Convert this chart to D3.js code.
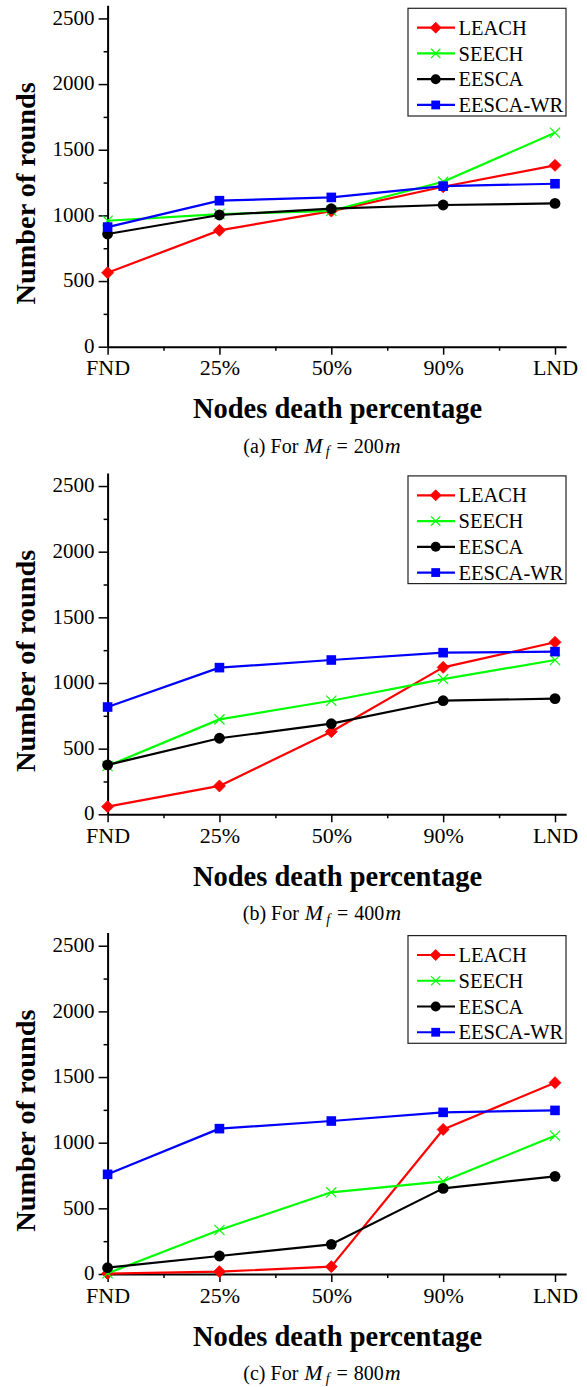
<!DOCTYPE html>
<html><head><meta charset="utf-8">
<script src="https://cdn.jsdelivr.net/npm/d3@7"></script>
<style>
body{margin:0;background:#fff}
svg{display:block}
text{font-family:"Liberation Serif","Times New Roman",serif;fill:#000}
</style>
</head><body><svg id="chart" width="587" height="1387"></svg>
<script>
// ---------- data ----------
const categories = ["FND","25%","50%","90%","LND"];
const seriesNames = ["LEACH","SEECH","EESCA","EESCA-WR"];
const seriesColors = ["#ff0000","#00ff00","#000000","#0000ff"];
const seriesMarkers = ["diamond","cross","circle","square"];
const yTickValues = [0,500,1000,1500,2000,2500];
const yMinorTicks = [250,750,1250,1750,2250];
const xMinorTicks = [0.5,1.5,2.5,3.5];

// (a) Mf = 200m
const leach200   = [563, 886, 1033, 1218, 1381];
const seech200   = [959, 1010, 1035, 1256, 1629];
const eesca200   = [858, 1003, 1051, 1079, 1091];
const eescaWR200 = [911, 1112, 1137, 1223, 1241];
// (b) Mf = 400m
const leach400   = [58, 216, 629, 1119, 1310];
const seech400   = [368, 723, 865, 1030, 1175];
const eesca400   = [376, 579, 690, 865, 881];
const eescaWR400 = [817, 1117, 1175, 1231, 1239];
// (c) Mf = 800m
const leach800   = [3, 18, 56, 1101, 1457];
const seech800   = [5, 335, 622, 706, 1053];
const eesca800   = [48, 137, 226, 652, 744];
const eescaWR800 = [759, 1107, 1165, 1231, 1246];

const panelLabels = ["(a)","(b)","(c)"];
const panelMf = ["200","400","800"];
const panelSeries = [
  [leach200, seech200, eesca200, eescaWR200],
  [leach400, seech400, eesca400, eescaWR400],
  [leach800, seech800, eesca800, eescaWR800]
];

// ---------- layout ----------
const zeroYs = [346.7, 814.3, 1274];
const xLeft = 107.6, xStep = 111.85;
const yPxPer2600 = 341.4;

const svg = d3.select("#chart");

function drawMarker(g, type, x, y, color, s) {
  if (type === "diamond") {
    g.append("path").attr("d", `M${x},${y-s}L${x+s},${y}L${x},${y+s}L${x-s},${y}Z`)
      .attr("fill", color).attr("stroke", color).attr("stroke-width", 0.8);
  } else if (type === "cross") {
    const c = s*0.85;
    g.append("path").attr("d", `M${x-c},${y-c}L${x+c},${y+c}M${x-c},${y+c}L${x+c},${y-c}`)
      .attr("fill", "none").attr("stroke", color).attr("stroke-width", 1.2);
  } else if (type === "circle") {
    g.append("circle").attr("cx", x).attr("cy", y).attr("r", s*0.9).attr("fill", color);
  } else if (type === "square") {
    const c = s*0.8;
    g.append("rect").attr("x", x-c).attr("y", y-c).attr("width", 2*c).attr("height", 2*c).attr("fill", color);
  }
}

panelSeries.forEach((series, p) => {
  const zero = zeroYs[p];
  const x = d3.scaleLinear().domain([0, 4.1]).range([xLeft, xLeft + 4.1*xStep]);
  const y = d3.scaleLinear().domain([0, 2600]).range([zero, zero - yPxPer2600]);
  const g = svg.append("g");

  // minor ticks
  const yMinor = d3.axisLeft(y).tickValues(yMinorTicks).tickSize(4).tickFormat("").tickSizeOuter(0);
  g.append("g").attr("transform", `translate(${xLeft},0)`).call(yMinor)
    .call(a => a.select(".domain").remove())
    .selectAll("line").attr("stroke", "#000").attr("stroke-width", 1.5);
  const xMinor = d3.axisBottom(x).tickValues(xMinorTicks).tickSize(4).tickFormat("").tickSizeOuter(0);
  g.append("g").attr("transform", `translate(0,${zero})`).call(xMinor)
    .call(a => a.select(".domain").remove())
    .selectAll("line").attr("stroke", "#000").attr("stroke-width", 1.5);

  // y axis
  const yAxis = d3.axisLeft(y).tickValues(yTickValues).tickFormat(d3.format("d"))
    .tickSize(9).tickSizeOuter(0).tickPadding(4);
  const ya = g.append("g").attr("transform", `translate(${xLeft},0)`).call(yAxis);
  ya.select(".domain").attr("stroke", "#000").attr("stroke-width", 2);
  ya.selectAll(".tick line").attr("stroke", "#000").attr("stroke-width", 1.5);
  ya.selectAll(".tick text").attr("font-size", 21).attr("dy", "0.27em").attr("fill", "#000");

  // x axis
  const xAxis = d3.axisBottom(x).tickValues([0,1,2,3,4]).tickFormat(i => categories[i])
    .tickSize(8).tickSizeOuter(0).tickPadding(6);
  const xa = g.append("g").attr("transform", `translate(0,${zero})`).call(xAxis);
  xa.select(".domain").attr("stroke", "#000").attr("stroke-width", 2);
  xa.selectAll(".tick line").attr("stroke", "#000").attr("stroke-width", 1.5);
  xa.selectAll(".tick text").attr("font-size", 22).attr("dy", "0.66em").attr("fill", "#000");

  // series lines and markers
  series.forEach((vals, s) => {
    const line = d3.line().x((d, i) => x(i)).y(d => y(d));
    g.append("path").datum(vals).attr("d", line)
      .attr("fill", "none").attr("stroke", seriesColors[s]).attr("stroke-width", 2.2)
      .attr("stroke-linejoin", "round");
    vals.forEach((v, i) => drawMarker(g, seriesMarkers[s], x(i), y(v), seriesColors[s], 6));
  });

  // legend
  const lg = g.append("g");
  lg.append("rect").attr("x", 408).attr("y", zero - 338.4).attr("width", 158).attr("height", 107.7)
    .attr("fill", "#fff").attr("stroke", "#222").attr("stroke-width", 1.2);
  seriesNames.forEach((name, s) => {
    const cy = zero - 319 + s*25.75;
    lg.append("line").attr("x1", 417).attr("x2", 455).attr("y1", cy).attr("y2", cy)
      .attr("stroke", seriesColors[s]).attr("stroke-width", 2.2);
    drawMarker(lg, seriesMarkers[s], 435.7, cy, seriesColors[s], 5.5);
    lg.append("text").attr("x", 458.5).attr("y", cy).attr("dy", "0.35em")
      .attr("font-size", 20.5).text(name);
  });

  // axis titles
  g.append("text").attr("x", 337.5).attr("y", zero + 71.6).attr("text-anchor", "middle")
    .attr("font-size", 28.5).attr("font-weight", "bold").text("Nodes death percentage");
  g.append("text").attr("transform", `translate(35,${zero - 153.4}) rotate(-90)`)
    .attr("text-anchor", "middle").attr("font-size", 28.3).attr("font-weight", "bold")
    .text("Number of rounds");

  // caption
  const cap = g.append("text").attr("x", 322).attr("y", zero + 105.8).attr("text-anchor", "middle")
    .attr("font-size", 20);
  cap.append("tspan").text(panelLabels[p] + " For ");
  cap.append("tspan").attr("font-style", "italic").attr("font-size", 22).attr("dx", 1).text("M");
  cap.append("tspan").attr("font-style", "italic").attr("font-size", 14).attr("dy", 3.5).attr("dx", 3).text("f");
  cap.append("tspan").attr("dy", -3.5).attr("dx", 7).text("=");
  cap.append("tspan").attr("dx", 6).text(panelMf[p]);
  cap.append("tspan").attr("font-style", "italic").attr("font-size", 22).attr("dx", 1).text("m");
});
</script>
</body></html>
